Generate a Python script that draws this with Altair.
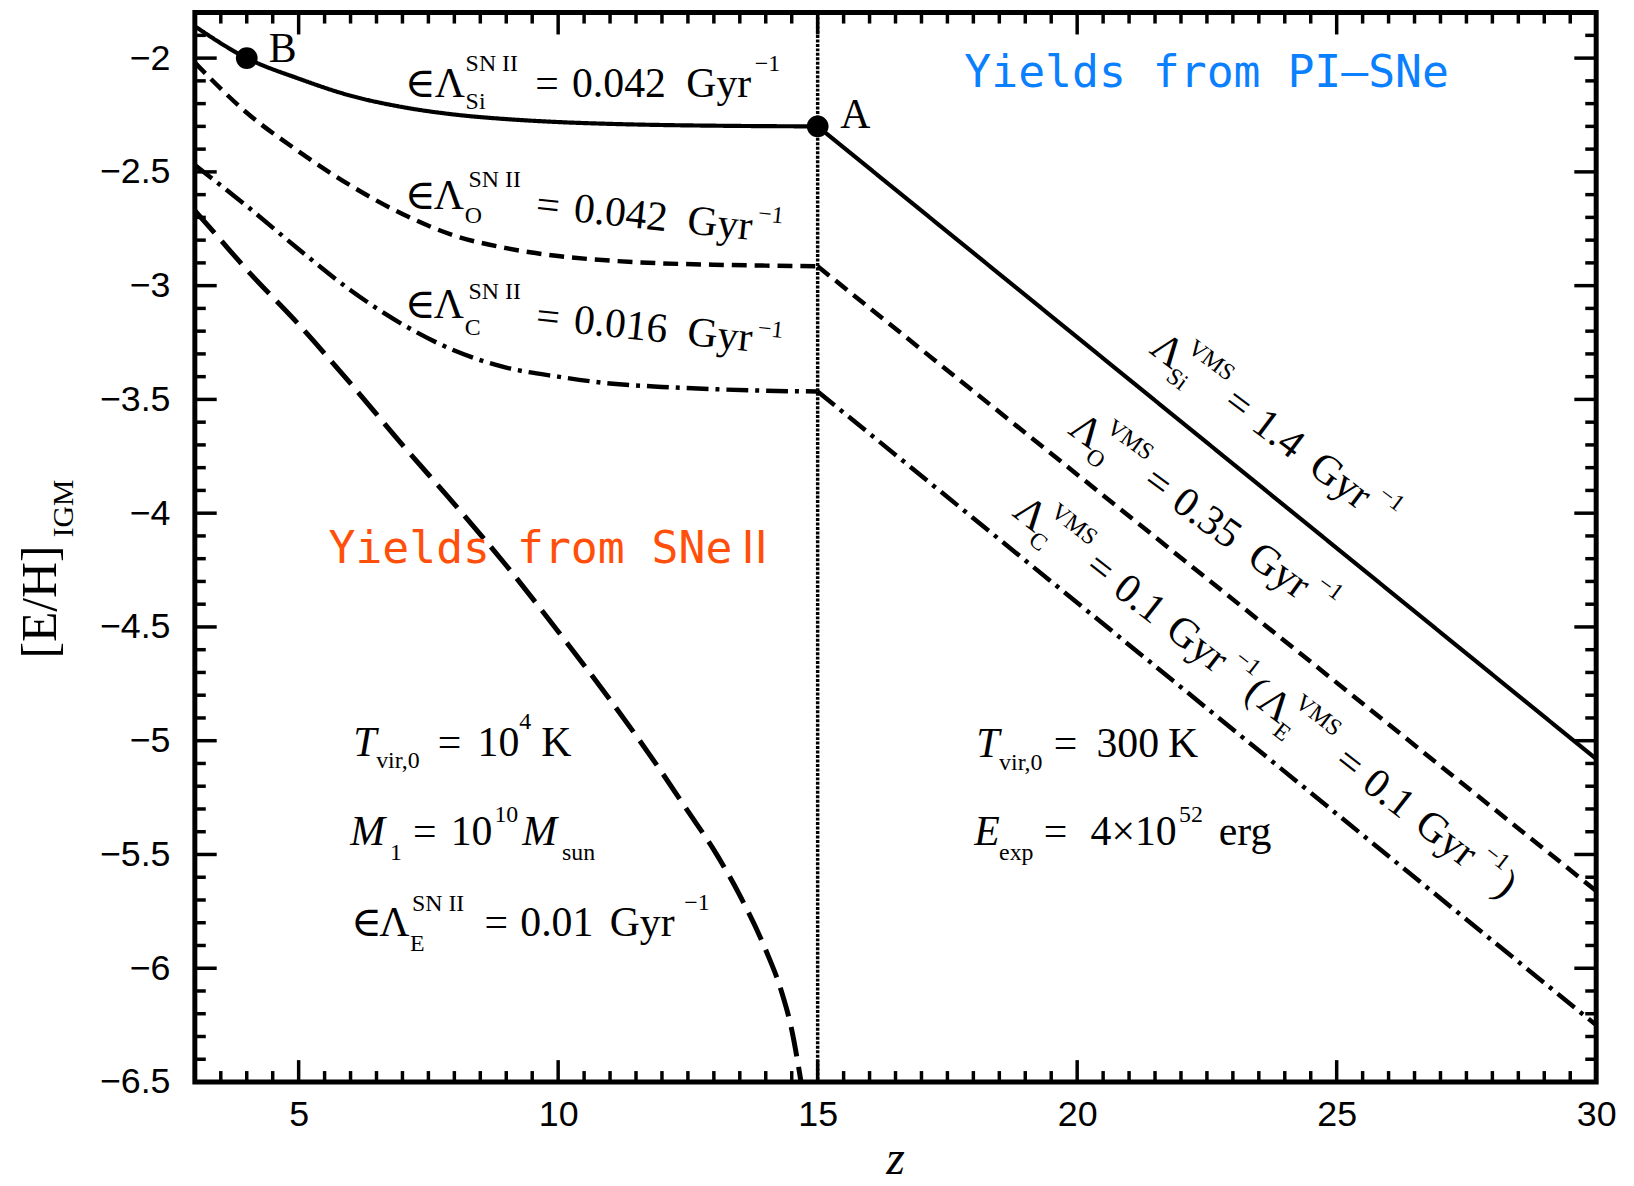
import altair as alt
import numpy as np
import pandas as pd

# ---------------- data ----------------
z_sn2 = [3, 4, 5, 6, 7, 8, 9, 10, 11, 12, 13, 14, 15]
si_sn2 = [-1.86, -2.00, -2.09, -2.165, -2.215, -2.248, -2.268, -2.281, -2.289, -2.294, -2.297, -2.299, -2.30]
o_sn2 = [-2.02, -2.24, -2.41, -2.56, -2.685, -2.78, -2.835, -2.87, -2.89, -2.902, -2.908, -2.912, -2.915]
c_sn2 = [-2.47, -2.65, -2.84, -3.02, -3.17, -3.285, -3.36, -3.40, -3.43, -3.445, -3.455, -3.462, -3.465]
z_e = [3, 3.5, 4, 5, 6, 7, 8, 9, 10, 11, 12, 12.5, 13, 13.5, 14, 14.3, 14.5, 14.68]
e_sn2 = [-2.67, -2.80, -2.93, -3.17, -3.43, -3.70, -3.96, -4.23, -4.52, -4.82, -5.14, -5.31,
         -5.48, -5.68, -5.92, -6.10, -6.27, -6.50]
z_vms = [15, 30]
si_vms = [-2.30, -5.08]
o_vms = [-2.915, -5.66]
c_vms = [-3.465, -6.25]
point_names = ["B", "A"]
point_z = [4.0, 15.0]
point_y = [-2.0, -2.3]
z_split = [15]
x_tick_labels = [5, 10, 15, 20, 25, 30]
y_tick_labels = [-2, -2.5, -3, -3.5, -4, -4.5, -5, -5.5, -6, -6.5]

# ---------------- layout / style ----------------
W, H = 1410, 1076
SERIF = "Liberation Serif, DejaVu Serif, serif"
MONO = "DejaVu Sans Mono, Noto Sans CJK JP, monospace"
BIG, SMALL = 42, 24


def X():
    return alt.X("z:Q", scale=alt.Scale(domain=[3, 30], nice=False, zero=False),
                 axis=alt.Axis(values=x_tick_labels, format="~g", title=None, labelPadding=16,
                               tickSize=0, labelFlush=False, labelOverlap=False))


def Y():
    return alt.Y("y:Q", scale=alt.Scale(domain=[-6.5, -1.8], nice=False, zero=False),
                 axis=alt.Axis(values=y_tick_labels, format="~g", title=None, labelPadding=25,
                               tickSize=0, labelFlush=False, labelOverlap=False))


layers = []

# ---------------- curves ----------------
def series_df(zl, yl, zr, yr):
    rows = [{"z": a, "y": b, "seg": "sn2"} for a, b in zip(zl, yl)]
    if zr:
        rows += [{"z": a, "y": b, "seg": "vms"} for a, b in zip(zr, yr)]
    return pd.DataFrame(rows)


curves = [
    (series_df(z_sn2, si_sn2, z_vms, si_vms), [1, 0], 4.2),
    (series_df(z_sn2, o_sn2, z_vms, o_vms), [15, 8], 4.5),
    (series_df(z_sn2, c_sn2, z_vms, c_vms), [22, 7, 4, 7], 4.5),
    (series_df(z_e, e_sn2, [], []), [30, 11], 5),
]
for df, dash, sw in curves:
    layers.append(alt.Chart(df).mark_line(interpolate="monotone", color="black",
                                          strokeDash=dash, strokeWidth=sw)
                  .encode(x=X(), y=Y(), detail="seg:N"))

# divider at z = 15
layers.append(alt.Chart(pd.DataFrame({"z": z_split})).mark_rule(
    color="black", strokeWidth=3.5, strokeDash=[3, 1.5]).encode(x=X()))

# points
layers.append(alt.Chart(pd.DataFrame({"z": point_z, "y": point_y, "n": point_names}))
              .mark_circle(size=480, color="black", opacity=1).encode(x=X(), y=Y()))

# ---------------- inner ticks on all four sides ----------------
x_minor = [float(v) for v in np.arange(3.5, 30, 0.5) if abs(v / 5 - round(v / 5)) > 1e-9]
x_major = [5, 10, 15, 20, 25]
y_minor = [round(float(v), 1) for v in np.arange(-6.4, -1.85, 0.1)
           if abs(v * 2 - round(v * 2)) > 1e-6]
y_major = [-6, -5.5, -5, -4.5, -4, -3.5, -3, -2.5, -2]


def xticks(vals, length):
    df = pd.DataFrame({"z": vals})
    r = alt.Chart(df).mark_rule(color="black", strokeWidth=3.5)
    return [r.encode(x=X(), y=alt.value(H), y2=alt.value(H - length)),
            r.encode(x=X(), y=alt.value(0), y2=alt.value(length))]


def yticks(vals, length):
    df = pd.DataFrame({"y": vals})
    r = alt.Chart(df).mark_rule(color="black", strokeWidth=3.5)
    return [r.encode(y=Y(), x=alt.value(0), x2=alt.value(length)),
            r.encode(y=Y(), x=alt.value(W), x2=alt.value(W - length))]


layers += xticks(x_minor, 11) + xticks(x_major, 22) + yticks(y_minor, 11) + yticks(y_major, 22)


# ---------------- text helpers ----------------
def txt(z, y, s, dx=0, dy=0, size=BIG, angle=0, italic=False, font=SERIF, color="black"):
    df = pd.DataFrame({"z": [z], "y": [y], "s": [s]})
    return alt.Chart(df).mark_text(
        align="left", baseline="alphabetic", dx=dx, dy=dy, fontSize=size, angle=angle,
        font=font, fontStyle="italic" if italic else "normal", color=color
    ).encode(x=X(), y=Y(), text="s:N")


def label(z, y, pieces, angle=0):
    out = []
    for p in pieces:
        s, dx, dy, size = p[:4]
        italic = len(p) > 4 and p[4]
        out.append(txt(z, y, s, dx=dx, dy=dy, size=size, angle=angle, italic=italic))
    return out


# SN II rate labels (left)
layers += label(7.049, -2.169, [
    ("∈", 0, 0, BIG), ("Λ", 30, 0, BIG), ("Si", 61, 13, SMALL), ("SN II", 61, -26, SMALL),
    ("=", 131, 0, BIG), ("0.042", 168, 0, BIG), ("Gyr", 283, 0, BIG), ("−1", 352, -26, SMALL)])

layers += label(7.049, -2.6625, [
    ("∈", 0, 0, BIG), ("Λ", 29, 0, BIG), ("O", 60, 14, SMALL), ("SN II", 64, -22, SMALL)])
layers += label(9.556, -2.700, [
    ("=", 0, 0, BIG), ("0.042", 38, 0, BIG), ("Gyr", 153, 0, BIG), ("−1", 223, -20, SMALL)], angle=6)

layers += label(7.049, -3.1426, [
    ("∈", 0, 0, BIG), ("Λ", 29, 0, BIG), ("C", 60, 17, SMALL), ("SN II", 64, -19, SMALL)])
layers += label(9.556, -3.190, [
    ("=", 0, 0, BIG), ("0.016", 38, 0, BIG), ("Gyr", 153, 0, BIG), ("−1", 223, -17, SMALL)], angle=6)

# VMS rate labels (right, along the lines)
layers += label(21.367, -3.291, [
    ("Λ", 0, 0, BIG), ("Si", 30, 12, SMALL), ("VMS", 30, -24, SMALL), ("=", 92, 0, BIG),
    ("1.4", 128, 0, BIG), ("Gyr", 200, 0, BIG), ("−1", 272, -22, SMALL)], angle=37)
layers += label(19.80, -3.645, [
    ("Λ", 0, 0, BIG), ("O", 30, 12, SMALL), ("VMS", 30, -24, SMALL), ("=", 92, 0, BIG),
    ("0.35", 128, 0, BIG), ("Gyr", 222, 0, BIG), ("−1", 294, -22, SMALL)], angle=36)
layers += label(18.726, -4.007, [
    ("Λ", 0, 0, BIG), ("C", 30, 12, SMALL), ("VMS", 30, -24, SMALL), ("=", 92, 0, BIG),
    ("0.1", 128, 0, BIG), ("Gyr", 195, 0, BIG), ("−1", 267, -22, SMALL), ("(", 296, 0, BIG),
    ("Λ", 312, 0, BIG), ("E", 342, 12, SMALL), ("VMS", 342, -24, SMALL), ("=", 410, 0, BIG),
    ("0.1", 446, 0, BIG), ("Gyr", 513, 0, BIG), ("−1", 585, -22, SMALL), (")", 615, 0, BIG)],
    angle=38)

# parameter blocks
layers += label(6.053, -5.0676, [
    ("T", 0, 0, BIG, True), ("vir,0", 23, 12, SMALL), ("=", 85, 0, BIG), ("10", 125, 0, BIG),
    ("4", 167, -27, SMALL), ("K", 189, 0, BIG)])
layers += label(5.996, -5.4604, [
    ("M", 0, 0, BIG, True), ("1", 40, 15, SMALL), ("=", 63, 0, BIG), ("10", 101, 0, BIG),
    ("10", 145, -24, SMALL), ("M", 173, 0, BIG, True), ("sun", 213, 15, SMALL)])
layers += label(6.015, -5.8576, [
    ("∈", 0, 0, BIG), ("Λ", 28, 0, BIG), ("E", 59, 15, SMALL), ("SN II", 61, -25, SMALL),
    ("=", 134, 0, BIG), ("0.01", 170, 0, BIG), ("Gyr", 260, 0, BIG), ("−1", 335, -26, SMALL)])
layers += label(18.055, -5.072, [
    ("T", 0, 0, BIG, True), ("vir,0", 23, 13, SMALL), ("=", 78, 0, BIG), ("300", 121, 0, BIG),
    ("K", 193, 0, BIG)])
layers += label(18.017, -5.4604, [
    ("E", 0, 0, BIG, True), ("exp", 25, 15, SMALL), ("=", 70, 0, BIG), ("4×10", 117, 0, BIG),
    ("52", 206, -24, SMALL), ("erg", 246, 0, BIG)])

# point labels
layers.append(txt(4.426, -2.0165, "B"))
layers.append(txt(15.433, -2.309, "A"))

# coloured region titles
layers.append(txt(17.826, -2.126, "Yields from PI–SNe", size=45, font=MONO, color="#0A80FF"))
layers.append(txt(5.575, -4.2208, "Yields from SNeⅡ", size=45, font=MONO, color="#FF4F0A"))

# axis titles (pixel placed, outside the plot)
ytitle = pd.DataFrame({"s": ["[E/H]"]})
layers.append(alt.Chart(ytitle).mark_text(align="left", baseline="alphabetic", angle=270,
                                          fontSize=50, font=SERIF, color="black")
              .encode(x=alt.value(-140), y=alt.value(650), text="s:N"))
layers.append(alt.Chart(pd.DataFrame({"s": ["IGM"]})).mark_text(
    align="left", baseline="alphabetic", angle=270, dx=122, dy=17, fontSize=30, font=SERIF,
    color="black").encode(x=alt.value(-140), y=alt.value(650), text="s:N"))
layers.append(alt.Chart(pd.DataFrame({"s": ["z"]})).mark_text(
    align="center", baseline="alphabetic", fontSize=48, font=SERIF, fontStyle="italic",
    color="black").encode(x=alt.value(W / 2), y=alt.value(H + 93), text="s:N"))

chart = alt.layer(*layers).properties(
    width=W, height=H,
    autosize=alt.AutoSizeParams(type="none"),
    padding={"left": 188, "top": 1, "right": 30, "bottom": 100},
    background="white",
).configure_view(stroke="black", strokeWidth=5).configure_axis(
    grid=False, domain=False, ticks=False, labelFont="Liberation Sans", labelFontSize=36,
    labelColor="black")

chart.save("out.html", embed_options={"renderer": "svg", "actions": False})
